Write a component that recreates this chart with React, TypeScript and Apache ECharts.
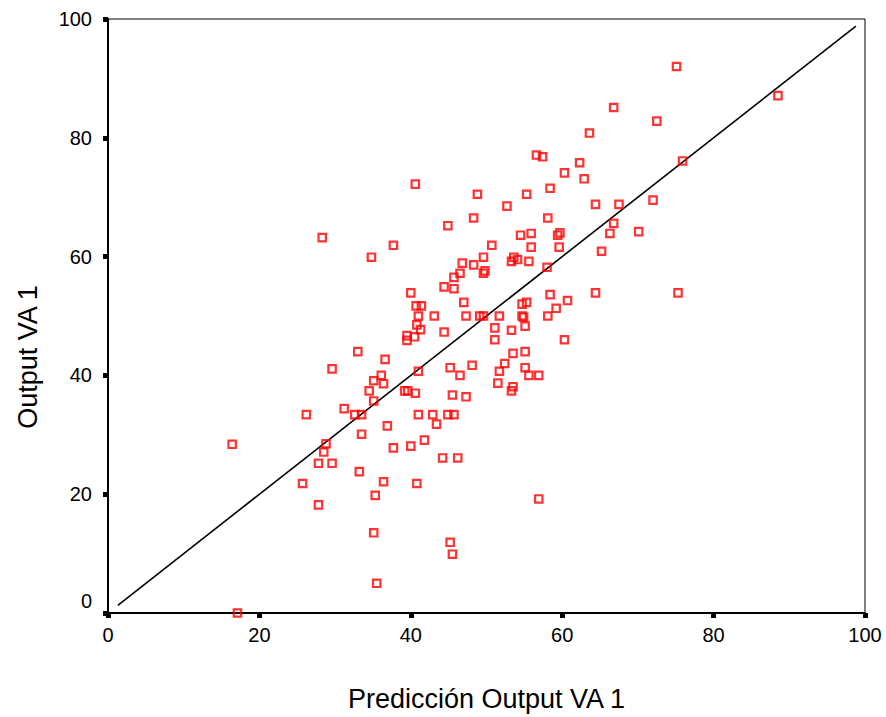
import React, { useEffect, useRef } from 'react';
import * as echarts from 'echarts';

const FONT = '"Liberation Sans", Arial, Helvetica, sans-serif';

const xTitle = 'Predicción Output VA 1';
const yTitle = 'Output VA 1';

const prediction = [
  75.1, 88.5, 66.8, 72.5, 63.6, 56.6, 57.4, 75.9, 62.3, 60.3,
  62.9, 40.6, 58.4, 48.8, 55.3, 72.0, 64.4, 67.5, 52.7, 48.3,
  58.1, 66.8, 44.9, 70.1, 66.3, 54.5, 55.9, 59.4, 59.7, 28.3,
  37.7, 50.7, 55.9, 59.6, 65.2, 34.8, 49.6, 53.6, 54.1, 53.3,
  55.6, 46.8, 48.3, 58.0, 49.8, 49.6, 46.5, 45.7, 44.4, 45.7,
  40.0, 64.4, 75.3, 58.4, 60.7, 47.0, 54.7, 55.3, 40.7, 41.4,
  59.2, 58.1, 41.0, 43.1, 47.3, 49.1, 49.6, 51.7, 54.7, 54.9,
  40.8, 41.3, 51.1, 55.1, 53.3, 44.4, 39.5, 40.5, 39.5, 51.1,
  60.3, 33.0, 53.5, 55.1, 36.6, 52.4, 45.2, 48.1, 55.1, 29.6,
  41.0, 51.7, 36.1, 46.5, 55.6, 56.9, 35.1, 51.5, 36.4, 53.5,
  34.5, 39.2, 39.6, 53.3, 40.6, 45.5, 47.3, 35.1, 31.2, 26.2,
  32.6, 33.5, 41.0, 42.9, 44.9, 45.7, 43.4, 36.9, 33.5, 41.8,
  16.4, 28.8, 37.7, 40.0, 28.5, 44.2, 46.2, 27.8, 29.6, 33.2,
  25.7, 36.4, 40.8, 35.3, 56.9, 27.8, 35.1, 45.2, 45.5, 35.5,
  17.1,
];

const output = [
  92.0, 87.1, 85.1, 82.8, 80.8, 77.1, 76.8, 76.1, 75.8, 74.1,
  73.1, 72.2, 71.5, 70.5, 70.5, 69.5, 68.8, 68.8, 68.5, 66.5,
  66.5, 65.6, 65.2, 64.2, 63.9, 63.6, 63.9, 63.6, 64.0, 63.2,
  61.9, 61.9, 61.6, 61.6, 60.9, 59.9, 59.9, 59.9, 59.5, 59.2,
  59.2, 58.9, 58.6, 58.2, 57.6, 57.2, 57.2, 56.5, 54.9, 54.6,
  53.9, 53.9, 53.9, 53.6, 52.6, 52.3, 52.0, 52.3, 51.7, 51.7,
  51.3, 50.0, 50.0, 50.0, 50.0, 50.0, 50.0, 50.0, 50.0, 49.8,
  48.5, 47.7, 48.0, 48.3, 47.6, 47.3, 46.7, 46.5, 45.9, 46.0,
  46.0, 44.0, 43.7, 44.0, 42.7, 42.0, 41.3, 41.7, 41.3, 41.1,
  40.7, 40.7, 40.0, 40.0, 40.0, 40.0, 39.1, 38.7, 38.6, 38.1,
  37.4, 37.4, 37.4, 37.4, 37.0, 36.7, 36.4, 35.7, 34.4, 33.4,
  33.4, 33.4, 33.4, 33.4, 33.4, 33.4, 31.8, 31.5, 30.1, 29.1,
  28.4, 28.5, 27.8, 28.1, 27.1, 26.1, 26.1, 25.2, 25.2, 23.8,
  21.8, 22.1, 21.8, 19.8, 19.2, 18.2, 13.5, 11.9, 9.9, 5.0,
  0.0,
];

// reference line y = x
const refLineX = [1.3, 98.8];
const refLineY = [1.3, 98.8];

const axisMin = 0;
const axisMax = 100;
const axisStep = 20;

export default function App() {
  const ref = useRef<HTMLDivElement>(null);

  useEffect(() => {
    if (!ref.current) return;
    const chart = echarts.init(ref.current, null, { renderer: 'svg' });
    const points = prediction.map((x, i) => [x, output[i]]);
    const line = refLineX.map((x, i) => [x, refLineY[i]]);

    const commonAxis = {
      type: 'value' as const,
      min: axisMin,
      max: axisMax,
      interval: axisStep,
      nameLocation: 'middle' as const,
      axisLine: { show: true, onZero: false, lineStyle: { color: '#000', width: 2 } },
      axisTick: { show: true, length: 5, lineStyle: { color: '#000', width: 5 } },
      splitLine: { show: false },
    };

    chart.setOption({
      animation: false,
      backgroundColor: '#ffffff',
      grid: {
        left: 108,
        right: 21,
        top: 19,
        bottom: 104,
        show: true,
        borderColor: '#000',
        borderWidth: 1,
        backgroundColor: 'transparent',
        containLabel: false,
        outerBoundsMode: 'none',
      },
      xAxis: {
        ...commonAxis,
        name: xTitle,
        nameGap: 72,
        nameTextStyle: { color: '#000', fontSize: 27, fontFamily: FONT },
        axisLabel: { color: '#000', fontSize: 20, fontFamily: FONT, margin: 12 },
      },
      yAxis: {
        ...commonAxis,
        name: yTitle,
        nameGap: 67,
        nameTextStyle: { color: '#000', fontSize: 27, fontFamily: FONT, padding: [0, 82, 0, 0] },
        axisLabel: {
          color: '#000',
          fontSize: 20,
          fontFamily: FONT,
          margin: 16,
          formatter: (v: number) => (v === 0 ? '{z|0}' : String(v)),
          rich: {
            z: { color: '#000', fontSize: 20, fontFamily: FONT, padding: [0, 0, 24, 0] },
          },
        },
      },
      series: [
        {
          type: 'line',
          data: line,
          symbol: 'none',
          silent: true,
          lineStyle: { color: '#000', width: 1.6 },
          z: 1,
        },
        {
          type: 'scatter',
          data: points,
          symbol: 'rect',
          symbolSize: 7.4,
          silent: true,
          itemStyle: { color: 'rgba(255,255,255,0)', borderColor: '#ff0000', borderWidth: 2.2 },
          z: 2,
        },
      ],
    });
    return () => chart.dispose();
  }, []);

  return (
    <div
      ref={ref}
      style={{ position: 'fixed', left: 0, top: 0, width: 886, height: 717, background: '#fff' }}
    />
  );
}
